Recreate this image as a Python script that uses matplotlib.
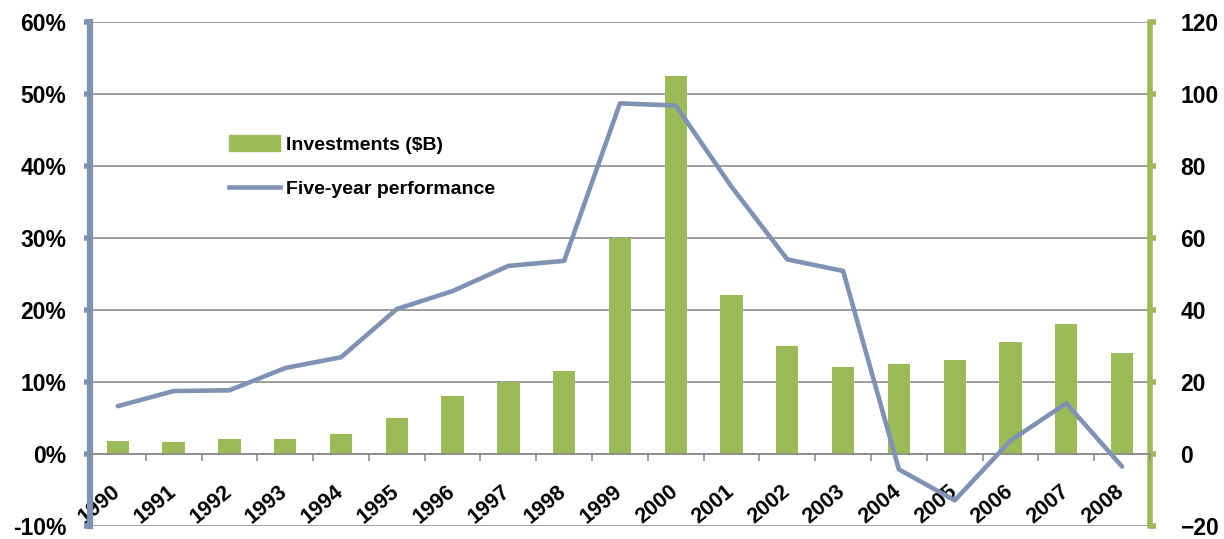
import numpy as np
import matplotlib; matplotlib.use("Agg")
import matplotlib.pyplot as plt
import matplotlib.transforms as mtransforms
from matplotlib.ticker import FixedLocator, FuncFormatter
from matplotlib.lines import Line2D
from matplotlib.patches import Patch

years = [str(y) for y in range(1990, 2009)]
investments = [3.6, 3.2, 4, 4, 5.5, 10, 16, 20, 23, 60, 105, 44, 30, 24, 25, 26, 31, 36, 28]
performance = [6.6, 8.7, 8.8, 11.9, 13.4, 20.1, 22.6, 26.1, 26.8, 48.7, 48.4, 37.1,
               27.0, 25.4, -2.2, -6.5, 1.8, 7.0, -1.8]

BLUE = "#7F92B3"; GREEN = "#9BBB59"; GRID = "#8C8C8C"
plt.rcParams["font.family"] = ["Liberation Sans", "DejaVu Sans"]
plt.rcParams["font.weight"] = "bold"

fig = plt.figure(figsize=(12.24, 5.39), dpi=100)
ax = fig.add_axes([0.0735, 0.025, 0.866, 0.934])   # line, left axis
ax2 = ax.twinx()                                    # bars, right axis
ax.set_zorder(ax2.get_zorder() + 1); ax.patch.set_visible(False)

x = np.arange(len(years))
# bars + grid on right axis
ax2.set_ylim(-20, 120)
for v in range(-20, 121, 20):
    ax2.axhline(v, color=GRID, lw=1.2, zorder=0)
ax2.bar(x, investments, width=0.4, color=GREEN, zorder=2)
ax2.set_yticks(range(-20, 121, 20))
ax2.tick_params(axis="y", direction="out", length=4, width=4, color=GREEN, labelsize=16.5, pad=18)
for sp in ("top", "left", "bottom"):
    ax2.spines[sp].set_visible(False)
ax2.spines["right"].set_color(GREEN); ax2.spines["right"].set_linewidth(4)

# line on left axis
ax.set_ylim(-10, 60)
ax.plot(x, performance, color=BLUE, lw=3.3, solid_capstyle="round", zorder=5)
ax.set_yticks(range(-10, 61, 10))
ax.yaxis.set_major_formatter(FuncFormatter(lambda v, p: f"{v:.0f}%"))
ax.tick_params(axis="y", direction="out", length=4, width=4, color=BLUE, labelsize=16.5, pad=13)
for sp in ("top", "right"):
    ax.spines[sp].set_visible(False)
ax.spines["left"].set_color(BLUE); ax.spines["left"].set_linewidth(4.5)
ax.spines["bottom"].set_position(("data", 0))
ax.spines["bottom"].set_color(GRID); ax.spines["bottom"].set_linewidth(1.2)
ax.xaxis.set_minor_locator(FixedLocator(np.arange(-0.5, len(years), 1.0)))
ax.tick_params(axis="x", which="minor", direction="out", length=5, width=1.2, color=GRID)
ax.set_xticks(x)
ax.set_xticklabels(years, rotation=40, ha="right", va="top", rotation_mode="anchor", fontsize=15.5)
ax.tick_params(axis="x", which="major", length=0, pad=20)
shift = mtransforms.ScaledTranslation(-7 / 100, 0, fig.dpi_scale_trans)
for lbl in ax.get_xticklabels():
    lbl.set_transform(lbl.get_transform() + shift)
ax.set_xlim(-0.5, len(years) - 0.5)

handles = [Patch(color=GREEN, label="Investments ($B)"),
           Line2D([0], [0], color=BLUE, lw=3.3, label="Five-year performance")]
ax.legend(handles=handles, loc="upper left", bbox_to_anchor=(0.115, 0.81), frameon=False,
          prop={"family": ["Liberation Sans Narrow", "Liberation Sans"], "weight": "bold", "size": 14},
          handlelength=2.6, handleheight=0.9, labelspacing=1.3, handletextpad=0.3)

fig.savefig("out.png", dpi=100)
